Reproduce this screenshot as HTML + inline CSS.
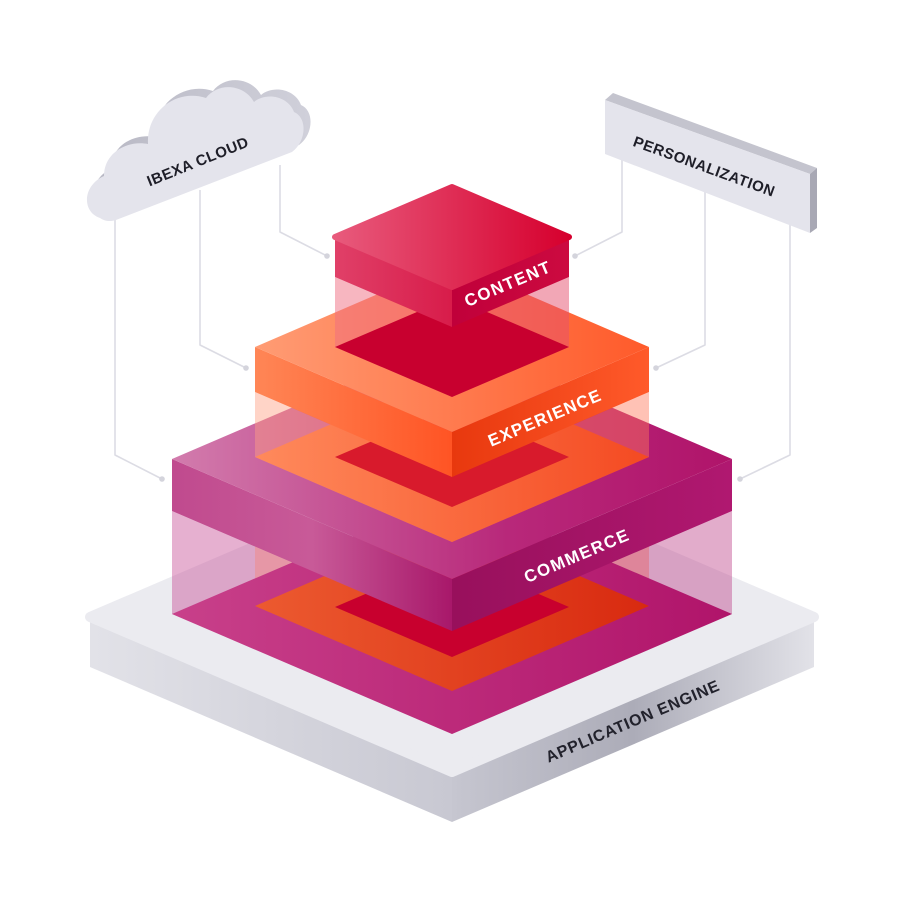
<!DOCTYPE html>
<html><head><meta charset="utf-8"><style>html,body{margin:0;padding:0;background:#fff}svg{display:block}</style></head>
<body>
<svg width="900" height="900" viewBox="0 0 900 900" xmlns="http://www.w3.org/2000/svg">
<defs>
<linearGradient id="baseR" x1="0" x2="1"><stop offset="0" stop-color="#c6c6d0"/><stop offset="0.5" stop-color="#acacb8"/><stop offset="1" stop-color="#e2e2e8"/></linearGradient>
<linearGradient id="baseL" x1="0" x2="1"><stop offset="0" stop-color="#e2e2e8"/><stop offset="1" stop-color="#c8c8d2"/></linearGradient>
<linearGradient id="comFloor" x1="0" x2="1"><stop offset="0" stop-color="#c8408a"/><stop offset="1" stop-color="#b0146a"/></linearGradient>
<linearGradient id="comTop" x1="0" x2="1"><stop offset="0" stop-color="#d27cad"/><stop offset="0.6" stop-color="#b8287a"/><stop offset="1" stop-color="#b0146a"/></linearGradient>
<linearGradient id="comBandL" x1="0" x2="1"><stop offset="0" stop-color="#c04a8e"/><stop offset="0.5" stop-color="#c85a98"/><stop offset="1" stop-color="#a8186a"/></linearGradient>
<linearGradient id="comBandR" x1="0" x2="1"><stop offset="0" stop-color="#98105c"/><stop offset="1" stop-color="#b01870"/></linearGradient>
<linearGradient id="expTop" x1="0" x2="1"><stop offset="0" stop-color="#ff9c74"/><stop offset="1" stop-color="#ff5a2a"/></linearGradient>
<linearGradient id="expBandL" x1="0" x2="1"><stop offset="0" stop-color="#ff8656"/><stop offset="1" stop-color="#ff5424"/></linearGradient>
<linearGradient id="expBandR" x1="0" x2="1"><stop offset="0" stop-color="#e8380e"/><stop offset="1" stop-color="#ff5a2a"/></linearGradient>
<linearGradient id="expFloor" x1="0" x2="1"><stop offset="0" stop-color="#ff8a5c"/><stop offset="1" stop-color="#f44a22"/></linearGradient>
<linearGradient id="expLow" x1="0" x2="1"><stop offset="0" stop-color="#ec5a30"/><stop offset="1" stop-color="#d82a10"/></linearGradient>
<linearGradient id="conTop" x1="0" x2="1"><stop offset="0" stop-color="#e85a7c"/><stop offset="1" stop-color="#d6002e"/></linearGradient>
<linearGradient id="conBandL" x1="0" x2="1"><stop offset="0" stop-color="#e04068"/><stop offset="1" stop-color="#d81c4a"/></linearGradient>
<linearGradient id="conBandR" x1="0" x2="1"><stop offset="0" stop-color="#c0003a"/><stop offset="1" stop-color="#cc0a40"/></linearGradient>
<linearGradient id="cloudSide" x1="0" x2="1"><stop offset="0" stop-color="#b8b8c4"/><stop offset="1" stop-color="#d0d0da"/></linearGradient>
</defs>

<!-- connectors -->
<g fill="none" stroke="#dcdce4" stroke-width="1.6" stroke-linejoin="round">
<path d="M115,210 V455 L162,479"/>
<path d="M200,190 V345 L246,368"/>
<path d="M280,165 V232 L327,256"/>
<path d="M622,155 V232 L575,256"/>
<path d="M705,185 V345 L656,368"/>
<path d="M790,225 V455 L740,479"/>
</g>
<g fill="#d4d4dc">
<circle cx="162" cy="479" r="2.8"/><circle cx="246" cy="368" r="2.8"/><circle cx="327" cy="256" r="2.8"/>
<circle cx="575" cy="256" r="2.8"/><circle cx="656" cy="368" r="2.8"/><circle cx="740" cy="479" r="2.8"/>
</g>

<!-- cloud -->
<path transform="translate(7,-7)" fill="url(#cloudSide)" d="M100,218 C82,212 82,186 104,176 C104,152 128,140 148,144 C146,112 176,88 206,98 C218,82 244,84 254,102 C266,92 288,96 294,112 C308,118 306,142 292,152 L116,220 C110,222 104,221 100,218 Z"/>
<path fill="#e4e4ec" d="M100,218 C82,212 82,186 104,176 C104,152 128,140 148,144 C146,112 176,88 206,98 C218,82 244,84 254,102 C266,92 288,96 294,112 C308,118 306,142 292,152 L116,220 C110,222 104,221 100,218 Z"/>
<text x="198" y="162" transform="rotate(-22 198 162)" text-anchor="middle" dominant-baseline="central" font-family="Liberation Sans, sans-serif" font-weight="bold" font-size="15" fill="#1e1e28" letter-spacing="0.5">IBEXA CLOUD</text>

<!-- personalization sign -->
<polygon points="605,100 613,93 817,168 810,174" fill="#c4c4ce"/>
<polygon points="810,174 817,168 817,228 810,233" fill="#a8a8b4"/>
<polygon points="605,100 810,174 810,233 605,154" fill="#e4e4ec"/>
<text x="704" y="167" transform="rotate(20 704 167)" text-anchor="middle" dominant-baseline="central" font-family="Liberation Sans, sans-serif" font-weight="bold" font-size="15" fill="#1e1e28" letter-spacing="0.5">PERSONALIZATION</text>

<!-- base -->
<polygon points="90,617 452,772 452,822 90,667" fill="url(#baseL)"/>
<polygon points="452,772 814,617 814,667 452,822" fill="url(#baseR)"/>
<polygon points="90,617 452,462 814,617 452,772" fill="#ebebf0" stroke="#ebebf0" stroke-width="10" stroke-linejoin="round"/>
<text x="633" y="722" transform="rotate(-23 633 722)" text-anchor="middle" dominant-baseline="central" font-family="Liberation Sans, sans-serif" font-weight="bold" font-size="16" fill="#22222c" letter-spacing="0.8">APPLICATION ENGINE</text>

<!-- commerce walls -->
<polygon points="172,511 452,631 452,734 172,614" fill="rgba(200,80,150,0.45)"/>
<polygon points="452,631 732,511 732,614 452,734" fill="rgba(190,70,140,0.45)"/>
<polygon points="255,540 452,625 452,691 255,606" fill="rgba(255,120,90,0.3)"/>
<polygon points="452,625 649,540 649,606 452,691" fill="rgba(240,70,60,0.3)"/>

<!-- lower floors -->
<polygon points="172,614 452,494 732,614 452,734" fill="url(#comFloor)"/>
<polygon points="255,606 452,521 649,606 452,691" fill="url(#expLow)"/>
<polygon points="335,607 452,557 569,607 452,657" fill="#c8002e"/>

<!-- commerce band + top -->
<polygon points="172,459 452,579 452,631 172,511" fill="url(#comBandL)"/>
<polygon points="452,579 732,459 732,511 452,631" fill="url(#comBandR)"/>
<polygon points="172,459 452,339 732,459 452,579" fill="url(#comTop)"/>

<!-- experience walls -->
<polygon points="255,392 452,477 452,542 255,457" fill="rgba(255,160,130,0.45)"/>
<polygon points="452,477 649,392 649,457 452,542" fill="rgba(255,120,90,0.45)"/>
<!-- experience floor -->
<polygon points="255,457 452,372 649,457 452,542" fill="url(#expFloor)"/>
<polygon points="335,457 452,407 569,457 452,507" fill="#d81a2c"/>

<!-- experience band + top -->
<polygon points="255,347 452,432 452,477 255,392" fill="url(#expBandL)"/>
<polygon points="452,432 649,347 649,392 452,477" fill="url(#expBandR)"/>
<polygon points="255,347 452,262 649,347 452,432" fill="url(#expTop)"/>

<!-- content walls + floor -->
<polygon points="335,277 452,327 452,397 335,347" fill="rgba(240,110,130,0.5)"/>
<polygon points="452,327 569,277 569,347 452,397" fill="rgba(230,80,110,0.5)"/>
<polygon points="335,347 452,297 569,347 452,397" fill="#c8002f"/>

<!-- content band + top -->
<polygon points="335,237 452,287 452,327 335,277" fill="url(#conBandL)"/>
<polygon points="452,287 569,237 569,277 452,327" fill="url(#conBandR)"/>
<polygon points="335,237 452,187 569,237 452,287" fill="url(#conTop)" stroke="url(#conTop)" stroke-width="6" stroke-linejoin="round"/>

<!-- labels -->
<g font-family="Liberation Sans, sans-serif" font-weight="bold" fill="#fff" text-anchor="middle" dominant-baseline="central">
<text x="508" y="284" transform="rotate(-23 508 284)" font-size="17" letter-spacing="1.5">CONTENT</text>
<text x="545" y="418" transform="rotate(-23 545 418)" font-size="17" letter-spacing="1.2">EXPERIENCE</text>
<text x="577" y="556" transform="rotate(-23 577 556)" font-size="17" letter-spacing="1.5">COMMERCE</text>
</g>
</svg>
</body></html>
